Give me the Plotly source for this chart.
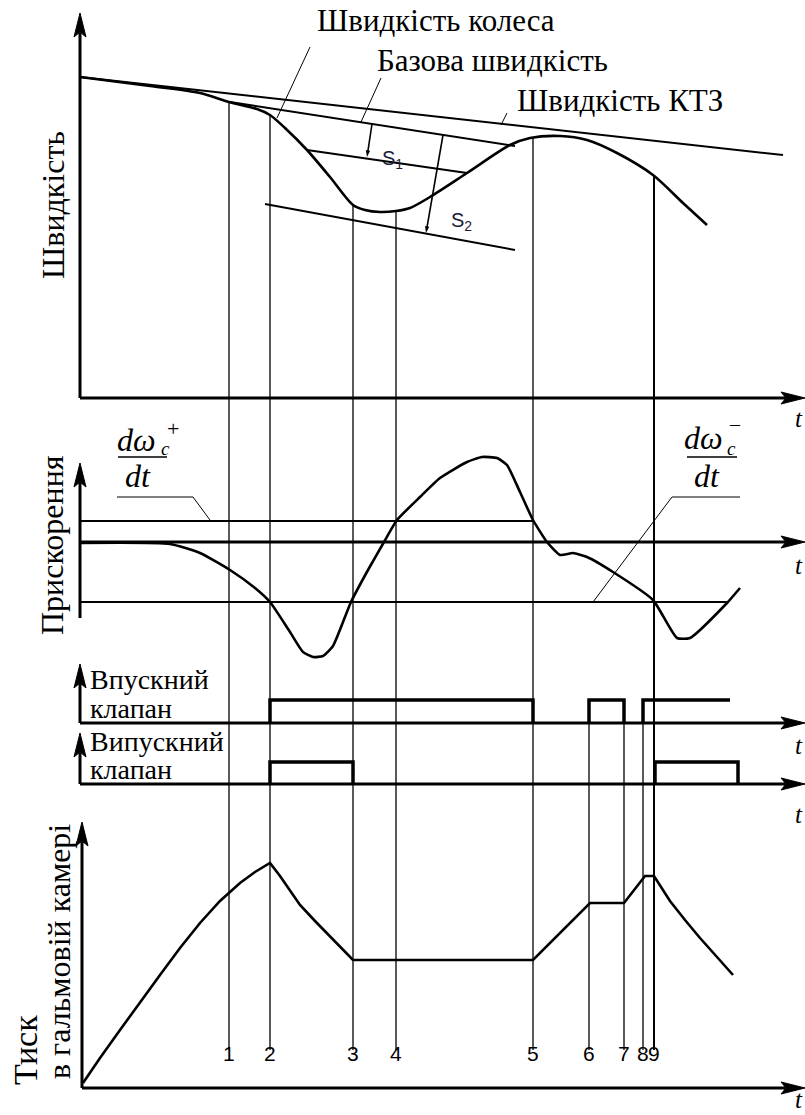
import plotly.graph_objects as go
import numpy as np

W, H = 805, 1115

# ---------------- data ----------------
event_labels = ["1", "2", "3", "4", "5", "6", "7", "8", "9"]
event_t = [149, 190, 273, 316, 453, 509, 544, 563, 574]
valve_only_events = ["6", "7", "8"]

# speed panel
vehicle_t = [0, 703]
vehicle_v = [321, 243]
base_t = [150, 435]
base_v = [296, 252]
wheel_t = [0, 70, 120, 149, 177, 190, 205, 227, 250, 273, 285, 300, 316, 330,
           350, 387, 430, 450, 480, 507, 537, 573, 603, 627]
wheel_v = [321, 312, 305, 296, 289, 283, 270, 248, 221, 193, 188, 186, 187, 190,
           201, 225, 253, 260, 262, 258, 245, 223, 195, 173]
s1_t = [227, 387]
s1_v = [248, 225]
s2_t = [185, 435]
s2_v = [194, 148]
s1_dim_t = [292, 287]
s1_dim_v = [274, 241]
s2_dim_t = [363, 346]
s2_dim_v = [263, 165]

# acceleration panel
accel_t = [0, 90, 120, 150, 175, 190, 210, 223, 233, 243, 253, 271, 288, 304,
           317, 340, 360, 387, 402, 417, 427, 440, 453, 467, 480, 493, 507, 533,
           573, 597, 610, 647, 660]
accel_v = [-1, -2, -11, -28, -46, -60, -90, -110, -115, -114, -104, -60, -28, 0,
           22, 45, 64, 80, 85, 84, 77, 50, 22, 0, -13, -11, -15, -30,
           -58, -96, -96, -61, -46]
thr_plus_t = [0, 453]
thr_plus_v = [21, 21]
thr_minus_t = [0, 647]
thr_minus_v = [-60, -60]

# valves (0 = closed, 1 = open), pulses separated by gaps
intake_t = [190, 190, 453, 453, None, 509, 509, 544, 544, None, 563, 563, 650]
intake_s = [0, 1, 1, 0, None, 0, 1, 1, 0, None, 0, 1, 1]
exhaust_t = [190, 190, 273, 273, None, 575, 575, 658, 658]
exhaust_s = [0, 1, 1, 0, None, 0, 1, 1, 0]

# brake chamber pressure
press_t = [3, 20, 40, 60, 80, 100, 120, 140, 160, 175, 190,
           200, 220, 235, 250, 273, 453, 510, 544, 565, 574,
           582, 590, 605, 620, 637, 653]
press_v = [5, 30, 58, 86, 113, 140, 165, 187, 205, 216, 225,
           212, 183, 167, 152, 128, 128, 185, 185, 212, 212,
           199, 187, 168, 150, 131, 113]

# ---------------- geometry (layout only) ----------------
T0 = 80            # pixel column of t = 0
SPEED_BASE = 398
ACC_BASE = 542
IN_BASE, IN_AMP = 723, 23
EX_BASE, EX_AMP = 784, 22
P_BASE = 1088
EV_BOTTOM = 1050

def px(x):
    return x / W

def py(y):
    return 1 - y / H

SERIF = "Liberation Serif, Times New Roman, DejaVu Serif, serif"
SANS = "Liberation Sans, Arial, sans-serif"
INK = "black"

fig = go.Figure()

def add(t, v, axis, width, shape="linear", smoothing=None, arrows=False):
    line = dict(color=INK, width=width, shape=shape)
    if smoothing is not None:
        line["smoothing"] = smoothing
    kw = {}
    if arrows:
        kw = dict(mode="lines+markers",
                  marker=dict(symbol="arrow", size=7, angleref="previous",
                              color=INK))
    else:
        kw = dict(mode="lines")
    fig.add_trace(go.Scatter(x=t, y=v, line=line, yaxis=axis,
                             hoverinfo="skip", showlegend=False,
                             connectgaps=False, **kw))

# speed panel
add(vehicle_t, vehicle_v, "y", 2)
add(base_t, base_v, "y", 2)
add(wheel_t, wheel_v, "y", 2.6, "spline", 0.8)
add(s1_t, s1_v, "y", 2)
add(s2_t, s2_v, "y", 2)
add(s1_dim_t, s1_dim_v, "y", 1.6, arrows=True)
add(s2_dim_t, s2_dim_v, "y", 1.6, arrows=True)
# acceleration panel
add(thr_plus_t, thr_plus_v, "y2", 2)
add(thr_minus_t, thr_minus_v, "y2", 2)
add(accel_t, accel_v, "y2", 2.6, "spline", 0.5)
# valves
add(intake_t, intake_s, "y3", 3.5)
add(exhaust_t, exhaust_s, "y4", 3.5)
# pressure
add(press_t, press_v, "y5", 2.6)

shapes = []
# event lines
for lab, t in zip(event_labels, event_t):
    if lab in valve_only_events:
        top = IN_BASE - IN_AMP
    else:
        top = SPEED_BASE - float(np.interp(t, wheel_t, wheel_v))
    shapes.append(dict(type="line", xref="x", yref="paper", x0=t, x1=t,
                       y0=py(top), y1=py(EV_BOTTOM),
                       line=dict(color=INK, width=2 if lab == "9" else 1.3)))

# leader lines & fraction bars (pixel positions)
polylines = [
    [(310, 47), (277, 118)],
    [(381, 78), (361, 122)],
    [(507, 113), (501, 125)],
    [(117, 497), (193, 497), (210, 520)],
    [(740, 497), (672, 497), (593, 602)],
]
for pl in polylines:
    for (xa, ya), (xb, yb) in zip(pl[:-1], pl[1:]):
        shapes.append(dict(type="line", xref="paper", yref="paper",
                           x0=px(xa), y0=py(ya), x1=px(xb), y1=py(yb),
                           line=dict(color=INK, width=1)))
for xa, xb in [(118, 167), (687, 737)]:
    shapes.append(dict(type="line", xref="paper", yref="paper",
                       x0=px(xa), y0=py(457), x1=px(xb), y1=py(457),
                       line=dict(color=INK, width=1.5)))

# coordinate axes with arrowheads: (head_x, head_y, tail_x, tail_y)
axes_arrows = [
    (80, 13, 80, SPEED_BASE), (805, SPEED_BASE, 80, SPEED_BASE),
    (80, 463, 80, 618), (805, ACC_BASE, 80, ACC_BASE),
    (80, 664, 80, IN_BASE), (805, IN_BASE, 80, IN_BASE),
    (80, 733, 80, EX_BASE), (805, EX_BASE, 80, EX_BASE),
    (82, 822, 82, P_BASE), (805, P_BASE, 82, P_BASE),
]
AL, AW = 24, 6
for hx, hy, tx, ty in axes_arrows:
    vertical = (hx == tx)
    if vertical:
        end = (hx, hy + AL - 4)
        pts = [(hx, hy), (hx - AW, hy + AL), (hx, hy + AL - 5), (hx + AW, hy + AL)]
    else:
        end = (hx - AL + 4, hy)
        pts = [(hx, hy), (hx - AL, hy - AW), (hx - AL + 5, hy), (hx - AL, hy + AW)]
    shapes.append(dict(type="line", xref="paper", yref="paper",
                       x0=px(tx), y0=py(ty), x1=px(end[0]), y1=py(end[1]),
                       line=dict(color=INK, width=3)))
    path = "M " + " L ".join(f"{px(a):.5f},{py(b):.5f}" for a, b in pts) + " Z"
    shapes.append(dict(type="path", xref="paper", yref="paper", path=path,
                       fillcolor=INK, line=dict(color=INK, width=1)))

ann = []

def text(s, x, y, size, family=SERIF, angle=0, xanchor="center", italic=False):
    ann.append(dict(x=px(x), y=py(y), xref="paper", yref="paper", text=s,
                    showarrow=False, textangle=angle, xanchor=xanchor,
                    yanchor="middle",
                    font=dict(family=family, size=size, color=INK,
                              style="italic" if italic else "normal")))

text("Швидкість колеса", 436, 20, 31)
text("Базова швидкість", 492, 60, 31)
text("Швидкість КТЗ", 620, 100, 31)
text("Швидкість", 53, 205, 32, angle=-90)
text("Прискорення", 52, 545, 32, angle=-90)
text("Тиск", 25, 1050, 34, angle=-90)
text("в гальмовій камері", 59, 952, 32, angle=-90)
text("Впускний", 88, 679, 28, xanchor="left")
text("клапан", 88, 708, 28, xanchor="left")
text("Випускний", 88, 741, 28, xanchor="left")
text("клапан", 88, 769, 28, xanchor="left")

# derivative thresholds
text("dω", 136, 440, 32, italic=True)
text("c", 165, 449, 19, italic=True)
text("+", 173, 428, 22)
text("dt", 138, 476, 32, italic=True)
text("dω", 703, 438, 32, italic=True)
text("c", 731, 449, 19, italic=True)
text("–", 735, 424, 20)
text("dt", 707, 476, 32, italic=True)

# S labels
ann.append(dict(x=px(392), y=py(145), xref="paper", yref="paper",
                text="S<sub>1</sub>", showarrow=False,
                font=dict(family=SANS, size=20, color="#1b1b3a")))
ann.append(dict(x=px(461), y=py(207), xref="paper", yref="paper",
                text="S<sub>2</sub>", showarrow=False,
                font=dict(family=SANS, size=20, color="#1b1b3a")))

# t labels
for ty in [418, 565, 745, 814, 1099]:
    text("t", 805, ty, 25, italic=True, xanchor="right")

# event numbers
for lab, t in zip(event_labels, event_t):
    ann.append(dict(x=t, y=py(1067), xref="x", yref="paper", text=lab,
                    showarrow=False, font=dict(family=SANS, size=21, color=INK)))

def yax(base, amp=1.0):
    return dict(range=[(base - H) / amp, base / amp], domain=[0, 1],
                visible=False, fixedrange=True)

fig.update_layout(
    width=W, height=H, margin=dict(l=0, r=0, t=0, b=0),
    paper_bgcolor="white", plot_bgcolor="white",
    xaxis=dict(range=[-T0, W - T0], domain=[0, 1], visible=False,
               fixedrange=True),
    yaxis=yax(SPEED_BASE),
    yaxis2=dict(yax(ACC_BASE), overlaying="y"),
    yaxis3=dict(yax(IN_BASE, IN_AMP), overlaying="y"),
    yaxis4=dict(yax(EX_BASE, EX_AMP), overlaying="y"),
    yaxis5=dict(yax(P_BASE), overlaying="y"),
    shapes=shapes, annotations=ann, showlegend=False,
)

fig.write_html("out.html")
